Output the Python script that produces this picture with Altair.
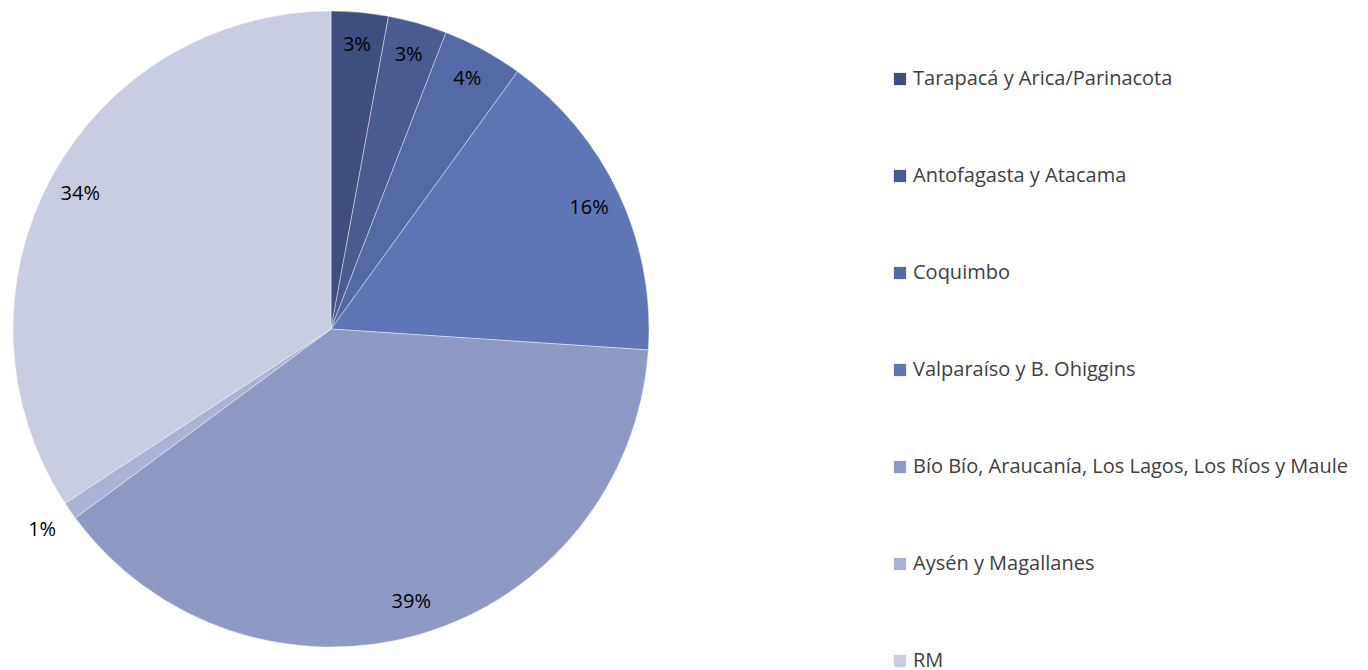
import altair as alt
import pandas as pd

regions = [
    "Tarapacá y Arica/Parinacota",
    "Antofagasta y Atacama",
    "Coquimbo",
    "Valparaíso y B. Ohiggins",
    "Bío Bío, Araucanía, Los Lagos, Los Ríos y Maule",
    "Aysén y Magallanes",
    "RM",
]
shares = [2.9, 3.0, 4.1, 16.1, 38.9, 0.9, 34.3]
colors = ["#3F4E7E", "#4A5B91", "#5469A5", "#5F75B5", "#8E99C4", "#ABB2D3", "#C8CDE1"]

df = pd.DataFrame({"region": regions, "share": shares, "idx": list(range(len(regions)))})

FONT = "Open Sans"
CX, CY, R = 323, 321, 318

pie = alt.Chart(df).mark_arc(radius=R, stroke="white", strokeWidth=0.5, strokeOpacity=0.8).encode(
    theta=alt.Theta("share:Q", stack=True),
    order=alt.Order("idx:Q"),
    x=alt.value(CX),
    y=alt.value(CY),
    color=alt.Color(
        "region:N",
        scale=alt.Scale(domain=regions, range=colors),
        sort=regions,
        legend=alt.Legend(
            title=None,
            orient="none",
            legendX=882,
            legendY=61,
            symbolType="square",
            symbolSize=150,
            symbolStrokeWidth=0,
            labelFont=FONT,
            labelFontSize=20,
            labelColor="#404040",
            rowPadding=77,
            labelLimit=700,
            labelOffset=3,
        ),
    ),
)

labels = alt.Chart(df).transform_joinaggregate(
    total="sum(share)"
).transform_window(
    cum="sum(share)", sort=[alt.SortField("idx")], frame=[None, 0]
).transform_calculate(
    label="round(datum.share / datum.total * 100) + '%'",
    mid="(datum.cum - datum.share / 2) / datum.total * 2 * PI",
    lr="datum.share / datum.total < 0.02 ? 352 : 285",
).mark_text(font=FONT, fontSize=20, color="black").encode(
    x=alt.value(CX),
    y=alt.value(CY),
    theta=alt.Theta("mid:Q", scale=None),
    radius=alt.Radius("lr:Q", scale=None),
    text="label:N",
)

chart = (
    alt.layer(pie, labels)
    .properties(width=1350, height=700, autosize=alt.AutoSizeParams(type="none"), padding=0)
    .configure_view(stroke=None)
)

chart.save("out.html", embed_options={"renderer": "svg", "actions": False})
